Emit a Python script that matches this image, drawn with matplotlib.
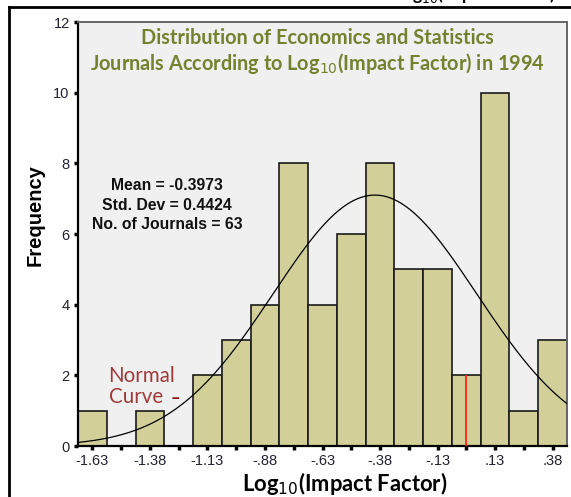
import numpy as np
import matplotlib
matplotlib.use('Agg')
import matplotlib.pyplot as plt
from matplotlib.lines import Line2D

# bin centres (width 0.125) and journal counts
bin_centers = [-1.625, -1.5, -1.375, -1.25, -1.125, -1.0, -0.875, -0.75, -0.625,
               -0.5, -0.375, -0.25, -0.125, 0.0, 0.125, 0.25, 0.375]
counts = [1, 0, 1, 0, 2, 3, 4, 8, 4, 6, 8, 5, 5, 2, 10, 1, 3]
bin_width = 0.125
tick_labels = ['-1.63', '', '-1.38', '', '-1.13', '', '-.88', '', '-.63', '',
               '-.38', '', '-.13', '', '.13', '', '.38']
y_ticks = [0, 2, 4, 6, 8, 10, 12]
mean = -0.3973
std = 0.4424
n_journals = 63
red_line_x = 0.0

bar_color = '#D3CF99'
title_color = '#72822F'
red_text = '#9E3A3A'

fig = plt.figure(figsize=(5.71, 4.97), dpi=100)
ax = fig.add_axes([78 / 571, 51 / 497, 489 / 571, 424 / 497])
ax.set_facecolor('#F0F0F0')

ax.bar(bin_centers, counts, width=bin_width, color=bar_color,
       edgecolor='#1a1a1a', linewidth=1.2, zorder=2)

# red marker line inside the 0.0 bin
ax.vlines(red_line_x, 0, counts[bin_centers.index(red_line_x)],
          color='#FF2020', linewidth=1.3, zorder=3)

# normal curve from the stated mean / sd, scaled to counts
lo = bin_centers[0] - bin_width / 2
hi = bin_centers[-1] + bin_width / 2
xs = np.linspace(lo, hi, 300)
ys = n_journals * bin_width / (std * np.sqrt(2 * np.pi)) * np.exp(-0.5 * ((xs - mean) / std) ** 2)
ax.plot(xs, ys, color='black', linewidth=0.9, zorder=4)

ax.set_xlim(lo, hi)
ax.set_ylim(0, 12)
ax.set_xticks(bin_centers)
ax.set_xticklabels(tick_labels)
ax.set_yticks(y_ticks)
ax.tick_params(axis='both', direction='out', length=3, width=2.5,
               labelsize=10.5, colors='black', labelcolor='#222233', pad=3)

for s in ['left', 'bottom']:
    ax.spines[s].set_color('black')
    ax.spines[s].set_linewidth(1.6)
for s in ['top', 'right']:
    ax.spines[s].set_color('#666666')
    ax.spines[s].set_linewidth(1.4)

for lab in ax.get_xticklabels() + ax.get_yticklabels():
    lab.set_fontfamily('Liberation Sans')

ax.set_ylabel('Frequency', fontfamily='Liberation Sans', fontweight='bold',
              fontsize=14.5, va='center')
ax.yaxis.set_label_coords(-0.088, 0.545)
ax.set_xlabel('Log$_{10}$(Impact Factor)', fontfamily='Lato', fontweight='bold',
              fontsize=15.8, va='center')
ax.xaxis.set_label_coords(0.546, -0.088)

ax.text(0.49, 0.987, 'Distribution of Economics and Statistics\n'
        'Journals According to Log$_{10}$(Impact Factor) in 1994',
        transform=ax.transAxes, ha='center', va='top', color=title_color,
        fontfamily='Lato', fontweight='bold', fontsize=14.3, linespacing=1.2)

ax.text(-1.30, 6.82, f'Mean = {mean}\nStd. Dev = {std}\nNo. of Journals = {n_journals}',
        ha='center', va='center', fontfamily='Liberation Sans', fontweight='bold',
        fontsize=11.3, linespacing=1.35, color='#111111', zorder=5)

ax.text(-1.41, 1.98, 'Normal', ha='center', va='center', color=red_text,
        fontfamily='Lato', fontsize=14.8, zorder=5)
ax.text(-1.435, 1.39, 'Curve', ha='center', va='center', color=red_text,
        fontfamily='Lato', fontsize=14.8, zorder=5)
ax.text(-1.262, 1.37, '\u2013', ha='center', va='center', color='#8B1A1A',
        fontfamily='Lato', fontweight='black', fontsize=12, zorder=5)

# cut-off text from the screenshot above and the frame lines
fig.text(474 / 571, 1.0, 'Log$_{10}$(Impact Factor)', ha='center', va='baseline',
         fontfamily='Lato', fontweight='bold', fontsize=12.5)
fig.add_artist(Line2D([9 / 571, 1], [1 - 6.5 / 497, 1 - 6.5 / 497],
                      transform=fig.transFigure, color='black', linewidth=2))
fig.add_artist(Line2D([9 / 571, 9 / 571], [0, 1 - 6.5 / 497],
                      transform=fig.transFigure, color='black', linewidth=2))

fig.savefig('out.png', dpi=100)
